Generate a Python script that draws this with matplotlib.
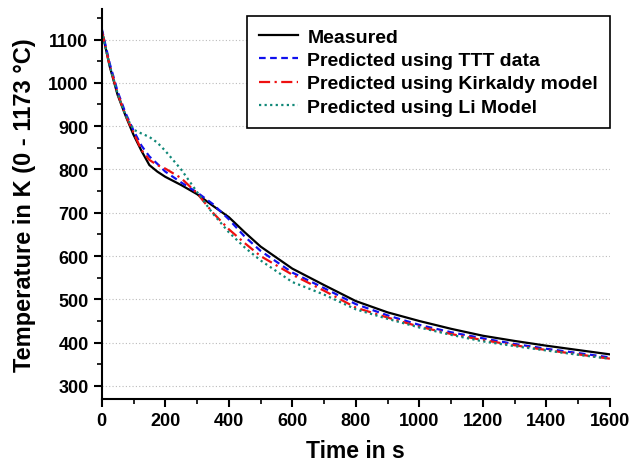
import matplotlib
matplotlib.use("Agg")
import matplotlib.pyplot as plt
from matplotlib.ticker import MultipleLocator

plt.rcParams['font.family'] = ['Liberation Sans', 'DejaVu Sans']
plt.rcParams['font.weight'] = 'bold'

# time grid (s)
time_s = [0, 25, 50, 75, 100, 125, 150, 175, 200, 250, 300, 350, 400, 450, 500,
          600, 700, 800, 900, 1000, 1100, 1200, 1300, 1400, 1500, 1600]

measured = [1122, 1038, 972, 924, 880, 843, 810, 795, 783, 764, 743, 716, 690, 655, 622,
            571, 533, 496, 470, 450, 432, 416, 404, 393, 383, 373]
ttt = [1125, 1045, 980, 930, 890, 855, 830, 813, 795, 770, 747, 720, 685, 645, 612,
       562, 526, 489, 463, 441, 424, 410, 397, 386, 376, 366]
kirkaldy = [1120, 1040, 975, 925, 885, 845, 822, 810, 802, 780, 745, 700, 662, 630, 600,
            557, 520, 481, 458, 437, 420, 406, 394, 383, 373, 363]
li_model = [1120, 1040, 975, 925, 892, 883, 875, 862, 843, 800, 748, 698, 655, 620, 590,
            540, 511, 477, 455, 435, 418, 403, 392, 382, 372, 363]

labels = ["Measured", "Predicted using TTT data",
          "Predicted using Kirkaldy model", "Predicted using Li Model"]

fig = plt.figure(figsize=(6.32, 4.64), dpi=100)
ax = fig.add_axes([0.161, 0.138, 0.804, 0.84])

ax.plot(time_s, measured, color='black', lw=1.6, ls='-', label=labels[0])
ax.plot(time_s, ttt, color='#1010ee', lw=1.6, ls=(0, (3, 2)), label=labels[1])
ax.plot(time_s, kirkaldy, color='#ee1010', lw=1.6, ls=(0, (5, 2, 1, 2)), label=labels[2])
ax.plot(time_s, li_model, color='#108878', lw=1.6, ls=(0, (1, 1.5)), label=labels[3])

ax.set_xlim(0, 1600)
ax.set_ylim(270, 1170)
ax.xaxis.set_major_locator(MultipleLocator(200))
ax.xaxis.set_minor_locator(MultipleLocator(100))
ax.yaxis.set_major_locator(MultipleLocator(100))
ax.yaxis.set_minor_locator(MultipleLocator(50))
ax.set_yticks(range(300, 1101, 100))

ax.grid(axis='y', which='major', color='#bbbbbb', ls=(0, (1, 2)), lw=0.8)
ax.set_axisbelow(True)

for s in ['top', 'right']:
    ax.spines[s].set_visible(False)
for s in ['left', 'bottom']:
    ax.spines[s].set_linewidth(1.5)

ax.tick_params(which='major', direction='out', length=6, width=1.5, labelsize=13)
ax.tick_params(which='minor', direction='out', length=3.5, width=1.2)
for t in ax.get_xticklabels() + ax.get_yticklabels():
    t.set_fontweight('bold')

ax.set_xlabel("Time in s", fontsize=16.5, fontweight='bold', labelpad=7)
ax.set_ylabel("Temperature in K (0 - 1173 \u00b0C)", fontsize=17, fontweight='bold',
              labelpad=9)

leg = ax.legend(loc='upper right', bbox_to_anchor=(1.0, 0.982), fancybox=False,
                edgecolor='black', framealpha=1, handlelength=2.0, handletextpad=0.5,
                prop={'weight': 'bold', 'size': 14}, borderpad=0.6, labelspacing=0.3,
                borderaxespad=0)
leg.get_frame().set_linewidth(1.2)

fig.savefig("out.png", dpi=100)
